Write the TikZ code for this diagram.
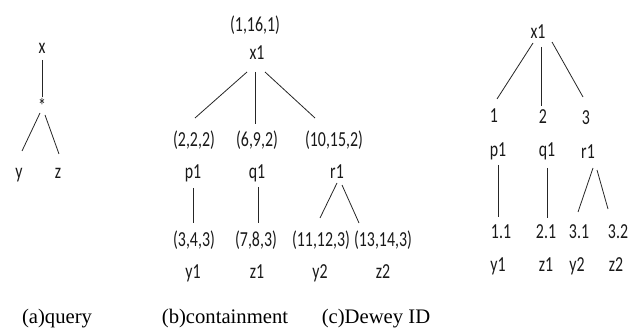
\documentclass[tikz,border=0pt]{standalone}
\usepackage{fontspec}
\setmainfont{Liberation Serif}
\newfontfamily\treefont{Carlito}
% tall, narrow label text
\newcommand{\tallbox}[1]{\scalebox{1}[1.35]{\vphantom{(}#1}}
\begin{document}
\begin{tikzpicture}[x=0.75pt,y=-0.75pt,
  lab/.style={font=\treefont\fontsize{11.9}{14}\selectfont, inner sep=0pt, text=black!90},
  captext/.style={font=\fontsize{15.5}{18}\selectfont, inner sep=0pt},
  link/.style={draw=black!85, line width=0.6pt}]
\useasboundingbox (0,0) rectangle (641,331);

% (a) query pattern
\node[lab] (qx) at (42,47) {\tallbox{x}};
\node[lab] (qs) at (42,107) {\tallbox{*}};
\node[lab] (qy) at (19,172) {\tallbox{y}};
\node[lab] (qz) at (58,172) {\tallbox{z}};
\coordinate (qx-b) at (42,60);   \coordinate (qs-t) at (42,97);
\coordinate (qs-l) at (40,113);  \coordinate (qy-t) at (22,151);
\coordinate (qs-r) at (45,115);  \coordinate (qz-t) at (59,154);
\draw[link] (qx-b) -- (qs-t);
\draw[link] (qs-l) -- (qy-t);
\draw[link] (qs-r) -- (qz-t);

% (b) containment labels
\node[lab] (bx1id) at (255,25) {\tallbox{(1,16,1)}};
\node[lab] (bx1) at (257,53) {\tallbox{x1}};
\node[lab] (bpid) at (194,140) {\tallbox{(2,2,2)}};
\node[lab] (bqid) at (257,140) {\tallbox{(6,9,2)}};
\node[lab] (brid) at (334,140) {\tallbox{(10,15,2)}};
\node[lab] (bp1) at (193,172) {\tallbox{p1}};
\node[lab] (bq1) at (257,172) {\tallbox{q1}};
\node[lab] (br1) at (337,172) {\tallbox{r1}};
\node[lab] (by1id) at (194,240) {\tallbox{(3,4,3)}};
\node[lab] (bz1id) at (256,240) {\tallbox{(7,8,3)}};
\node[lab] (by2id) at (321,240) {\tallbox{(11,12,3)}};
\node[lab] (bz2id) at (383,240) {\tallbox{(13,14,3)}};
\node[lab] (by1) at (193,272) {\tallbox{y1}};
\node[lab] (bz1) at (257,272) {\tallbox{z1}};
\node[lab] (by2) at (320,272) {\tallbox{y2}};
\node[lab] (bz2) at (383,272) {\tallbox{z2}};
\coordinate (bx1-l) at (247,72);  \coordinate (bp-t) at (195,118);
\coordinate (bx1-m) at (255,72);  \coordinate (bq-t) at (255,124);
\coordinate (bx1-r) at (265,72);  \coordinate (br-t) at (315,118);
\coordinate (bp1-b) at (193,188); \coordinate (by1-t) at (193,223);
\coordinate (bq1-b) at (258,187); \coordinate (bz1-t) at (258,223);
\coordinate (br1-l) at (337,183); \coordinate (by2-t) at (320,218);
\coordinate (br1-r) at (342,185); \coordinate (bz2-t) at (359,223);
\draw[link] (bx1-l) -- (bp-t);
\draw[link] (bx1-m) -- (bq-t);
\draw[link] (bx1-r) -- (br-t);
\draw[link] (bp1-b) -- (by1-t);
\draw[link] (bq1-b) -- (bz1-t);
\draw[link] (br1-l) -- (by2-t);
\draw[link] (br1-r) -- (bz2-t);

% (c) Dewey ID labels
\node[lab] (cx1) at (538,32) {\tallbox{x1}};
\node[lab] (cpid) at (494,116) {\tallbox{1}};
\node[lab] (cqid) at (543,117) {\tallbox{2}};
\node[lab] (crid) at (586,118) {\tallbox{3}};
\node[lab] (cp1) at (498,150) {\tallbox{p1}};
\node[lab] (cq1) at (547,150) {\tallbox{q1}};
\node[lab] (cr1) at (588,152) {\tallbox{r1}};
\node[lab] (cy1id) at (501,232) {\tallbox{1.1}};
\node[lab] (cz1id) at (546,232) {\tallbox{2.1}};
\node[lab] (cy2id) at (579,232) {\tallbox{3.1}};
\node[lab] (cz2id) at (618,232) {\tallbox{3.2}};
\node[lab] (cy1) at (498,265) {\tallbox{y1}};
\node[lab] (cz1) at (546,265) {\tallbox{z1}};
\node[lab] (cy2) at (577,265) {\tallbox{y2}};
\node[lab] (cz2) at (616,265) {\tallbox{z2}};
\coordinate (cx1-l) at (533,43);  \coordinate (cp-t) at (497,99);
\coordinate (cx1-m) at (541,47);  \coordinate (cq-t) at (541,106);
\coordinate (cx1-r) at (552,42);  \coordinate (cr-t) at (583,97);
\coordinate (cp1-b) at (498,165); \coordinate (cy1-t) at (498,217);
\coordinate (cq1-b) at (547,168); \coordinate (cz1-t) at (547,218);
\coordinate (cr1-l) at (593,168); \coordinate (cy2-t) at (578,212);
\coordinate (cr1-r) at (597,170); \coordinate (cz2-t) at (608,209);
\draw[link] (cx1-l) -- (cp-t);
\draw[link] (cx1-m) -- (cq-t);
\draw[link] (cx1-r) -- (cr-t);
\draw[link] (cp1-b) -- (cy1-t);
\draw[link] (cq1-b) -- (cz1-t);
\draw[link] (cr1-l) -- (cy2-t);
\draw[link] (cr1-r) -- (cz2-t);

% captions
\node[captext] (capa) at (57,319) {(a)query};
\node[captext] (capb) at (225,319) {(b)containment};
\node[captext] (capc) at (376,319) {(c)Dewey ID};
\end{tikzpicture}
\end{document}
